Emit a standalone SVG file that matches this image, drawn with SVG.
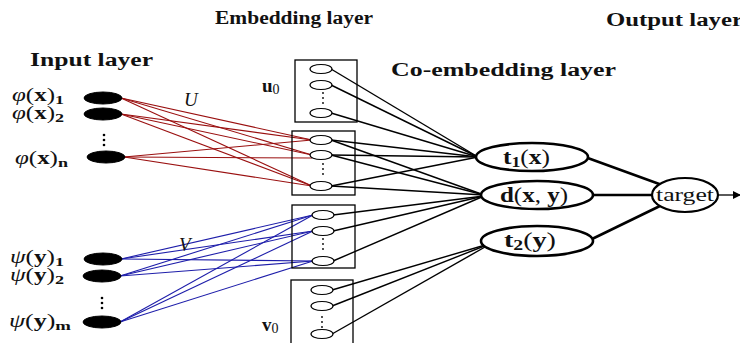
<svg xmlns="http://www.w3.org/2000/svg" width="740" height="343" viewBox="0 0 740 343">
<defs>
<style>
text{font-family:"Liberation Serif","DejaVu Serif",serif;fill:#111}
.h{font-weight:bold;font-size:18px}
.lab{font-size:18px}
.b{font-weight:bold}
.i{font-style:italic}
.in{fill:#000;stroke:#000}
.sm{fill:#fff;stroke:#000;stroke-width:1.2}
.box{fill:none;stroke:#000;stroke-width:1.3}
.co{fill:#fff;stroke:#000;stroke-width:2.6}
.r{stroke:#9a1010;stroke-width:1.1;fill:none}
.bl{stroke:#1e1eaa;stroke-width:1.1;fill:none}
.k{stroke:#000;stroke-width:1.4;fill:none}
.kk{stroke:#000;stroke-width:2.6;fill:none}
.dot{fill:#000}
</style>
<marker id="arr" markerWidth="8" markerHeight="8" refX="7" refY="4" orient="auto" markerUnits="userSpaceOnUse">
<path d="M0,0 L8,4 L0,8 z" fill="#000"/>
</marker>
</defs>

<g id="headings">
<text class="h" x="215" y="24" textLength="158" lengthAdjust="spacingAndGlyphs">Embedding layer</text>
<text class="h" x="606" y="26" textLength="137" lengthAdjust="spacingAndGlyphs">Output layer</text>
<text class="h" x="30" y="66" textLength="123" lengthAdjust="spacingAndGlyphs">Input layer</text>
<text class="h" x="391" y="76" textLength="225" lengthAdjust="spacingAndGlyphs">Co-embedding layer</text>
</g>

<g id="connectors">
<line class="r" x1="121" y1="98" x2="312" y2="140"/>
<line class="r" x1="121" y1="98" x2="312" y2="155"/>
<line class="r" x1="121" y1="98" x2="312" y2="186"/>
<line class="r" x1="121" y1="114" x2="312" y2="140"/>
<line class="r" x1="121" y1="114" x2="312" y2="155"/>
<line class="r" x1="121" y1="114" x2="312" y2="186"/>
<line class="r" x1="124" y1="157" x2="312" y2="140"/>
<line class="r" x1="124" y1="157" x2="312" y2="158"/>
<line class="r" x1="124" y1="157" x2="312" y2="186"/>
<line class="bl" x1="121" y1="259" x2="313" y2="215"/>
<line class="bl" x1="121" y1="259" x2="313" y2="231"/>
<line class="bl" x1="121" y1="259" x2="313" y2="261"/>
<line class="bl" x1="120" y1="276" x2="313" y2="215"/>
<line class="bl" x1="120" y1="276" x2="313" y2="231"/>
<line class="bl" x1="120" y1="276" x2="313" y2="261"/>
<line class="bl" x1="120" y1="322" x2="313" y2="215"/>
<line class="bl" x1="120" y1="322" x2="313" y2="231"/>
<line class="bl" x1="120" y1="322" x2="313" y2="261"/>
<line class="k" x1="331" y1="69" x2="478" y2="157"/>
<line class="k" x1="331" y1="85" x2="478" y2="157"/>
<line class="k" x1="331" y1="113" x2="478" y2="157"/>
<line class="k" x1="331" y1="140" x2="478" y2="157"/>
<line class="k" x1="331" y1="155" x2="478" y2="157"/>
<line class="k" x1="331" y1="186" x2="478" y2="157"/>
<line class="k" x1="331" y1="140" x2="484" y2="195"/>
<line class="k" x1="331" y1="155" x2="484" y2="195"/>
<line class="k" x1="331" y1="186" x2="484" y2="195"/>
<line class="k" x1="333" y1="215" x2="484" y2="196"/>
<line class="k" x1="333" y1="231" x2="484" y2="196"/>
<line class="k" x1="333" y1="261" x2="484" y2="196"/>
<line class="k" x1="332" y1="290" x2="492" y2="243"/>
<line class="k" x1="332" y1="306" x2="492" y2="243"/>
<line class="k" x1="332" y1="334" x2="492" y2="243"/>
<line class="kk" x1="585" y1="157" x2="662" y2="185"/>
<line class="kk" x1="592" y1="195" x2="653" y2="195"/>
<line class="kk" x1="590" y1="240" x2="662" y2="205"/>
<line x1="718" y1="195" x2="740" y2="195" stroke="#000" stroke-width="1.3" marker-end="url(#arr)"/>
</g>

<g id="input-x">
<ellipse class="in" cx="103" cy="98" rx="19" ry="6"/>
<ellipse class="in" cx="103" cy="114" rx="19" ry="6"/>
<ellipse class="in" cx="106" cy="157" rx="19" ry="6"/>
<circle class="dot" cx="104" cy="135" r="1.3"/>
<circle class="dot" cx="104" cy="140" r="1.3"/>
<circle class="dot" cx="104" cy="145" r="1.3"/>
<text class="lab" x="12" y="101" textLength="52" lengthAdjust="spacingAndGlyphs"><tspan class="i">φ</tspan>(<tspan class="b">x</tspan>)<tspan class="b" font-size="13" dy="3">1</tspan></text>
<text class="lab" x="12" y="119" textLength="52" lengthAdjust="spacingAndGlyphs"><tspan class="i">φ</tspan>(<tspan class="b">x</tspan>)<tspan class="b" font-size="13" dy="3">2</tspan></text>
<text class="lab" x="15" y="164" textLength="53" lengthAdjust="spacingAndGlyphs"><tspan class="i">φ</tspan>(<tspan class="b">x</tspan>)<tspan class="b" font-size="13" dy="3">n</tspan></text>
<text x="184" y="106" font-size="19" class="i">U</text>
</g>

<g id="input-y">
<ellipse class="in" cx="103" cy="259" rx="19" ry="6"/>
<ellipse class="in" cx="102" cy="276" rx="19" ry="6"/>
<ellipse class="in" cx="102" cy="322" rx="19" ry="6"/>
<circle class="dot" cx="102" cy="298" r="1.3"/>
<circle class="dot" cx="102" cy="303" r="1.3"/>
<circle class="dot" cx="102" cy="308" r="1.3"/>
<text class="lab" x="10" y="263" textLength="54" lengthAdjust="spacingAndGlyphs"><tspan class="i">ψ</tspan>(<tspan class="b">y</tspan>)<tspan class="b" font-size="13" dy="3">1</tspan></text>
<text class="lab" x="10" y="281" textLength="54" lengthAdjust="spacingAndGlyphs"><tspan class="i">ψ</tspan>(<tspan class="b">y</tspan>)<tspan class="b" font-size="13" dy="3">2</tspan></text>
<text class="lab" x="9" y="327" textLength="62" lengthAdjust="spacingAndGlyphs"><tspan class="i">ψ</tspan>(<tspan class="b">y</tspan>)<tspan class="b" font-size="13" dy="3">m</tspan></text>
<text x="179" y="251" font-size="19" class="i">V</text>
</g>

<g id="emb-u0">
<rect class="box" x="295" y="60" width="62" height="62"/>
<ellipse class="sm" cx="321" cy="69" rx="11" ry="4.5"/>
<ellipse class="sm" cx="321" cy="85" rx="11" ry="4.5"/>
<ellipse class="sm" cx="321" cy="113" rx="11" ry="4.5"/>
<circle class="dot" cx="323" cy="93" r="0.9"/>
<circle class="dot" cx="323" cy="98" r="0.9"/>
<circle class="dot" cx="323" cy="103" r="0.9"/>
<text x="262" y="92" font-size="19"><tspan class="b">u</tspan><tspan font-size="14" dy="2">0</tspan></text>
</g>

<g id="emb-x">
<rect class="box" x="292" y="131" width="63" height="64"/>
<ellipse class="sm" cx="321" cy="140" rx="11" ry="4.5"/>
<ellipse class="sm" cx="321" cy="155" rx="11" ry="4.5"/>
<ellipse class="sm" cx="321" cy="186" rx="11" ry="4.5"/>
<circle class="dot" cx="323" cy="164" r="0.9"/>
<circle class="dot" cx="323" cy="169" r="0.9"/>
<circle class="dot" cx="323" cy="174" r="0.9"/>
</g>

<g id="emb-y">
<rect class="box" x="292" y="205" width="63" height="63"/>
<ellipse class="sm" cx="323" cy="215" rx="11" ry="4.5"/>
<ellipse class="sm" cx="323" cy="231" rx="11" ry="4.5"/>
<ellipse class="sm" cx="323" cy="261" rx="11" ry="4.5"/>
<circle class="dot" cx="323" cy="239" r="0.9"/>
<circle class="dot" cx="323" cy="244" r="0.9"/>
<circle class="dot" cx="323" cy="249" r="0.9"/>
</g>

<g id="emb-v0">
<rect class="box" x="291" y="280" width="62" height="70"/>
<ellipse class="sm" cx="322" cy="290" rx="11" ry="4.5"/>
<ellipse class="sm" cx="322" cy="306" rx="11" ry="4.5"/>
<ellipse class="sm" cx="322" cy="334" rx="11" ry="4.5"/>
<circle class="dot" cx="322" cy="317" r="0.9"/>
<circle class="dot" cx="322" cy="322" r="0.9"/>
<circle class="dot" cx="322" cy="327" r="0.9"/>
<text x="262" y="331" font-size="19"><tspan class="b">v</tspan><tspan font-size="14" dy="2">0</tspan></text>
</g>

<g id="co-t1">
<ellipse class="co" cx="532" cy="157" rx="56" ry="14"/>
<text x="503" y="164" font-size="20" textLength="47" lengthAdjust="spacingAndGlyphs"><tspan class="b">t</tspan><tspan class="b" font-size="14" dy="3">1</tspan><tspan dy="-3">(</tspan><tspan class="b">x</tspan>)</text>
</g>
<g id="co-d">
<ellipse class="co" cx="537" cy="195" rx="56" ry="14"/>
<text x="500" y="202" font-size="20" textLength="68" lengthAdjust="spacingAndGlyphs"><tspan class="b">d</tspan>(<tspan class="b">x</tspan>, <tspan class="b">y</tspan>)</text>
</g>
<g id="co-t2">
<ellipse class="co" cx="537" cy="241" rx="56" ry="15"/>
<text x="504" y="247" font-size="20" textLength="52" lengthAdjust="spacingAndGlyphs"><tspan class="b">t</tspan><tspan class="b" font-size="14" dy="3">2</tspan><tspan dy="-3">(</tspan><tspan class="b">y</tspan>)</text>
</g>

<g id="target">
<ellipse cx="685" cy="195" rx="33" ry="17" fill="#fff" stroke="#000" stroke-width="2.2"/>
<text x="656" y="201" font-size="19" textLength="58" lengthAdjust="spacingAndGlyphs" fill="#333">target</text>
</g>
</svg>
